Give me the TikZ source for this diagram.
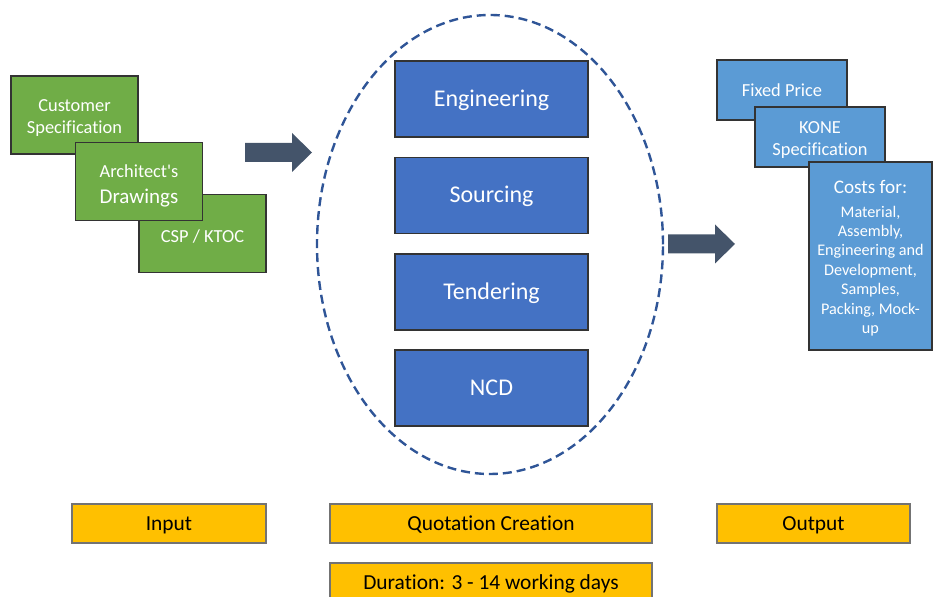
\documentclass[tikz,border=0pt]{standalone}
\usepackage{fontspec}
\setmainfont{Carlito}[Ligatures={TeX,NoCommon}]
\usetikzlibrary{shapes.geometric}

\definecolor{inputgreen}{HTML}{70AD47}
\definecolor{taskblue}{HTML}{4472C4}
\definecolor{outblue}{HTML}{5B9BD5}
\definecolor{phasegold}{HTML}{FFC000}
\definecolor{arrowslate}{HTML}{44546A}
\definecolor{ringblue}{HTML}{2F5597}

\tikzset{
  inbox/.style={rectangle, draw=black!80, line width=0.6pt, fill=inputgreen, text=white,
    align=center, inner sep=1pt, minimum width=63.5pt, minimum height=39pt,
    font=\fontsize{9.2}{11}\selectfont},
  taskbox/.style={rectangle, draw=black!80, line width=0.6pt, fill=taskblue, text=white,
    minimum width=96.5pt, minimum height=38pt, text height=0.9em, text depth=0.16em,
    font=\fontsize{12}{14.4}\selectfont},
  outbox/.style={rectangle, draw=black!80, line width=0.6pt, fill=outblue, text=white,
    align=center, inner sep=1pt, minimum width=65pt, minimum height=30pt,
    font=\fontsize{9.2}{11}\selectfont},
  phasebox/.style={rectangle, draw=black!55, line width=0.6pt, fill=phasegold,
    minimum height=19.5pt, text height=0.9em, text depth=0.16em,
    font=\fontsize{10.7}{13}\selectfont},
}

% taller first line pushes a text block down a little
\newcommand{\droptext}[1][9pt]{\rule{0pt}{#1}}

% fat block arrow, #1 = tail point
\newcommand{\blockarrow}[1]{%
  \fill[arrowslate, shift={#1}] (0,-9.5) -- (47,-9.5) -- (47,-19.5) -- (67,0)
    -- (47,19.5) -- (47,9.5) -- (0,9.5) -- cycle;}

\begin{document}
\begin{tikzpicture}[x=0.5pt, y=-0.5pt]
\useasboundingbox (0,0) rectangle (933,597);

% Input documents
\path
(74.5,115)  node[inbox] (cust) {\droptext Customer\\Specification}
(202.5,233.5) node[inbox] (csp) {\droptext CSP / KTOC}
(139,181.5) node[inbox] (arch) {\droptext[10.5pt]Architect\textquotesingle s\\[2pt]{\fontsize{10.5}{12.6}\selectfont Drawings}};

\blockarrow{(245,152.5)}

% Quotation creation
\path
(490,244.5) node[ellipse, draw=ringblue, line width=1.2pt, dash pattern=on 4.5pt off 2.5pt,
  minimum width=173pt, minimum height=229.5pt, inner sep=0pt] (ring) {};
\path
(491.5,99)  node[taskbox] (eng) {Engineering}
(491.5,195.5) node[taskbox] (src) {Sourcing}
(491.5,292) node[taskbox] (tend) {Tendering}
(491.5,388) node[taskbox] (ncd) {NCD};

\blockarrow{(668,244)}

% Output
\path
(782,90)  node[outbox] (price) {Fixed Price}
(820,137) node[outbox] (kone) {\droptext KONE\\Specification}
(870.5,256) node[outbox, minimum width=61.5pt, minimum height=94pt,
  font=\fontsize{8.1}{9.7}\selectfont] (costs)
  {{\fontsize{9.6}{11.5}\selectfont\droptext Costs for:}\\[2pt]Material,\\Assembly,\\Engineering and\\Development,\\Samples,\\Packing, Mock-\\up};

% Phase labels
\path
(169,523.5)   node[phasebox, minimum width=97pt] (inlabel) {Input}
(491,523.5)   node[phasebox, minimum width=161pt] (quotelabel) {Quotation Creation}
(813.5,523.5) node[phasebox, minimum width=96.5pt] (outlabel) {Output}
(491,582.5)   node[phasebox, minimum width=161pt] (duration) {Duration: 3 - 14 working days};

\end{tikzpicture}
\end{document}
